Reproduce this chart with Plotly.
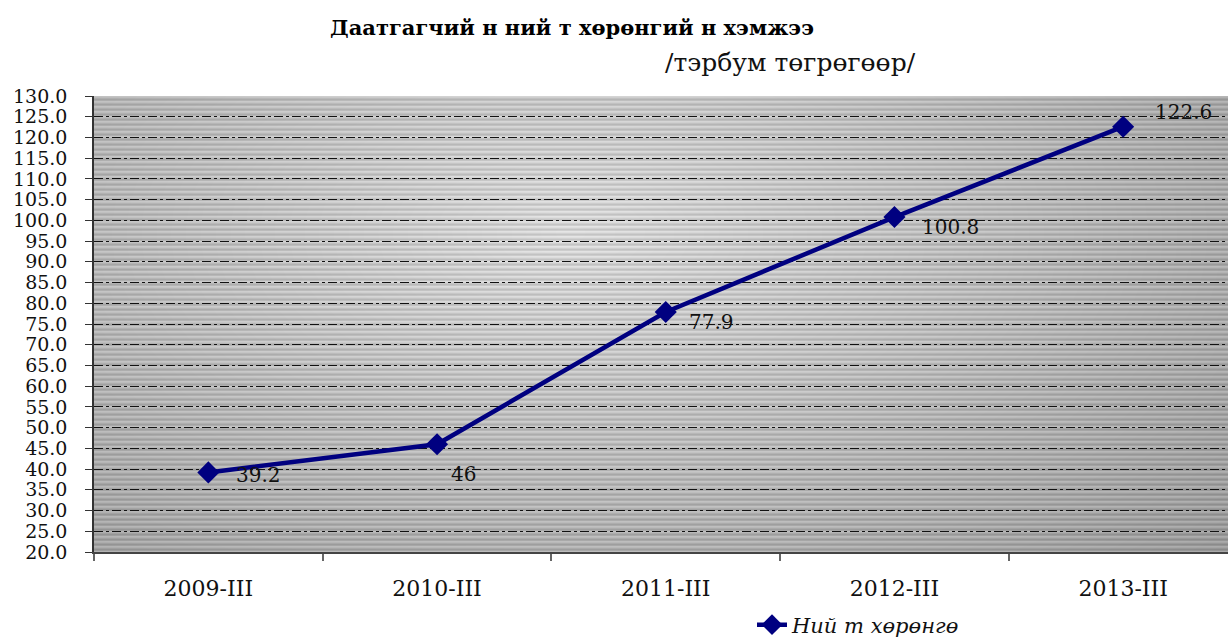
import base64
import struct
import zlib

import numpy as np
import plotly.graph_objects as go

# ---------------- data ----------------
categories = ["2009-III", "2010-III", "2011-III", "2012-III", "2013-III"]
values = [39.2, 46, 77.9, 100.8, 122.6]
value_labels = ["39.2", "46", "77.9", "100.8", "122.6"]
series_name = "Ний т хөрөнгө"
title_text = "Даатгагчий н ний т хөрөнгий н хэмжээ"
subtitle_text = "/тэрбум төгрөгөөр/"

# label offsets (style)
label_dx = [50, 26, 46, 56, 60]
label_dy = [-3, -30, -10, -10, 15]

# ---------------- background texture (decorative) ----------------
W, H = 1134, 456
yy, xx = np.mgrid[0:H, 0:W]
u = xx / W
v = yy / H
r = np.sqrt(((u - 0.42) / 0.6) ** 2 + ((v - 0.3) / 0.8) ** 2)
base = 214 - 46 * r
stripe = np.array([16, 10, -4, -16, -6])
img = base + stripe[yy % 5]
img = np.clip(img, 0, 255).astype(np.uint8)


def make_png(arr):
    h, w = arr.shape
    raw = b"".join(b"\x00" + arr[i].tobytes() for i in range(h))

    def chunk(tag, data):
        c = struct.pack(">I", len(data)) + tag + data
        return c + struct.pack(">I", zlib.crc32(tag + data) & 0xFFFFFFFF)

    png = b"\x89PNG\r\n\x1a\n"
    png += chunk(b"IHDR", struct.pack(">IIBBBBB", w, h, 8, 0, 0, 0, 0))
    png += chunk(b"IDAT", zlib.compress(raw, 9))
    png += chunk(b"IEND", b"")
    return "data:image/png;base64," + base64.b64encode(png).decode()


bg_src = make_png(img)

FONT = "DejaVu Serif"

fig = go.Figure()
fig.add_trace(
    go.Scatter(
        x=categories,
        y=values,
        mode="lines+markers",
        name=series_name,
        line=dict(color="#000080", width=4.5),
        marker=dict(symbol="diamond", size=17, color="#000080"),
    )
)

annotations = []
for c, val, lab, dx, dy in zip(categories, values, value_labels, label_dx, label_dy):
    annotations.append(
        dict(
            x=c, y=val, xref="x", yref="y", text=lab, showarrow=False,
            xshift=dx, yshift=dy,
            font=dict(family=FONT, size=20, color="#111"),
        )
    )

annotations.append(
    dict(
        x=(790 - 94) / 1134, y=(552 - 62) / 456, xref="paper", yref="paper",
        text=subtitle_text, showarrow=False, xanchor="center", yanchor="middle",
        font=dict(family=FONT, size=25, color="#111"),
    )
)

fig.update_layout(
    width=1228,
    height=637,
    margin=dict(l=94, r=0, t=96, b=85, autoexpand=False),
    paper_bgcolor="white",
    plot_bgcolor="rgba(0,0,0,0)",
    title=dict(
        text="<b>" + title_text + "</b>",
        x=572 / 1228, xanchor="center", xref="container",
        y=1 - 28 / 637, yanchor="middle", yref="container",
        font=dict(family=FONT, size=21, color="black"),
    ),
    images=[
        dict(
            source=bg_src, xref="paper", yref="paper", x=0, y=1,
            sizex=1, sizey=1, sizing="stretch", layer="below", xanchor="left", yanchor="top",
        )
    ],
    showlegend=True,
    legend=dict(
        orientation="h", x=(752 - 94) / 1134, xanchor="left",
        y=(552 - 625) / 456, yanchor="middle",
        bgcolor="rgba(0,0,0,0)",
        font=dict(family=FONT, size=21, color="#111", style="italic"),
    ),
    annotations=annotations,
)

fig.update_xaxes(
    type="category",
    range=[-0.5, -0.5 + 1134 / 228.7],
    tickson="boundaries",
    ticks="outside", ticklen=7, tickcolor="#666", tickwidth=1.5,
    showline=True, linecolor="#444", linewidth=1.5,
    showgrid=False,
    tickfont=dict(family=FONT, size=22, color="#111"),
    ticklabelstandoff=16,
)
fig.update_yaxes(
    range=[20, 130], dtick=5, tick0=20, tickformat=".1f",
    ticks="outside", ticklen=7, tickcolor="#333", tickwidth=1,
    showline=True, linecolor="#333", linewidth=1.5,
    showgrid=True, gridcolor="#111", gridwidth=1, griddash="dashdot",
    zeroline=False,
    tickfont=dict(family=FONT, size=19, color="#111"),
    ticklabelstandoff=14,
)

fig.write_html(
    "out.html",
    config={"displayModeBar": False},
    post_script="document.body.style.margin='0';document.body.style.overflow='hidden';",
)
